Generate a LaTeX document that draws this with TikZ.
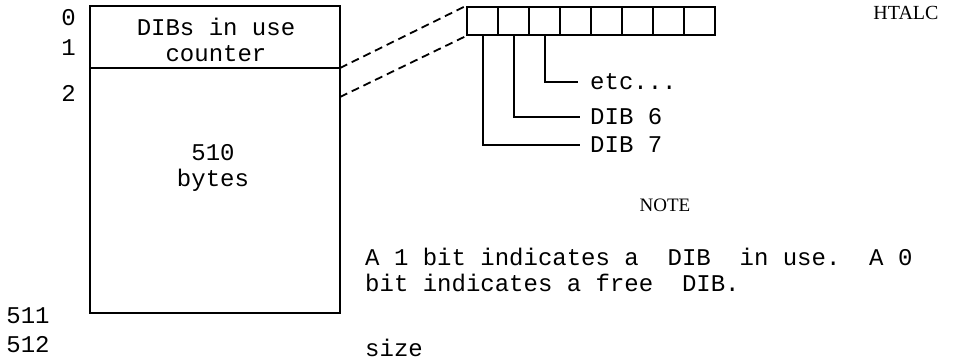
\documentclass[tikz,border=0pt]{standalone}
\usepackage{fontspec}
\setmainfont{Liberation Serif}
\setmonofont{Liberation Mono}
\usetikzlibrary{positioning}
\begin{document}
\begin{tikzpicture}[x=1pt,y=-1pt,
  tw/.style={font=\ttfamily\fontsize{24}{26}\selectfont,inner sep=0pt},
  blockbox/.style={draw,line width=2.6pt,minimum width=250pt,inner sep=0pt,outer sep=0pt},
  bitcell/.style={draw,line width=2.2pt,minimum width=31pt,minimum height=28pt,inner sep=0pt},
  leader/.style={line width=2pt},
  link/.style={line width=1.8pt,dash pattern=on 8pt off 5pt}]
\useasboundingbox (0,0) rectangle (977,360);
% the block
\node[blockbox,minimum height=62pt,anchor=north west] (cnt) at (90,6) {};
\node[blockbox,minimum height=245pt,below=0pt of cnt] (bytes) {};
\node[tw,align=center] (cntlbl) at (216,40) {DIBs in use\\counter};
\node[tw,align=center] (sz) at (213,168) {510\\bytes};
% offsets
\node[tw,anchor=east] (o0) at (76,18) {0};
\node[tw,anchor=east] (o1) at (76,48) {1};
\node[tw,anchor=east] (o2) at (76,93) {2};
\node[tw] (o511) at (28,316) {511};
\node[tw] (o512) at (28,345) {512};
% the bit map
\foreach \i in {1,...,8}
  \node[bitcell] (c\i) at (451.5+31*\i,21) {};
\node[font=\fontsize{20}{20}\selectfont] (htalc) at (906,13) {HTALC};
\draw[link] (cnt.south east) -- (c1.north west);
\draw[link] ([yshift=-29pt]cnt.south east) -- (c1.south west);
% bits
\node[tw,anchor=west] (etc) at (590,82) {etc...};
\node[tw,anchor=west] (dib6) at (590,117) {DIB 6};
\node[tw,anchor=west] (dib7) at (590,145) {DIB 7};
\draw[leader] (c3.south) |- ([xshift=-12pt]etc.west);
\draw[leader] (c2.south) |- ([xshift=-10pt]dib6.west);
\draw[leader] (c1.south) |- ([xshift=-10pt]dib7.west);
% note
\node[font=\fontsize{19}{20}\selectfont] (note) at (665,205) {NOTE};
\node[tw,anchor=west] (n1) at (365,257) {A 1 bit indicates a\ \ DIB\ \ in use.\ \ A 0};
\node[tw,anchor=west] (n2) at (365,283) {bit indicates a free\ \ DIB.};
\node[tw,anchor=west] (size) at (365,348) {size};
\end{tikzpicture}
\end{document}
